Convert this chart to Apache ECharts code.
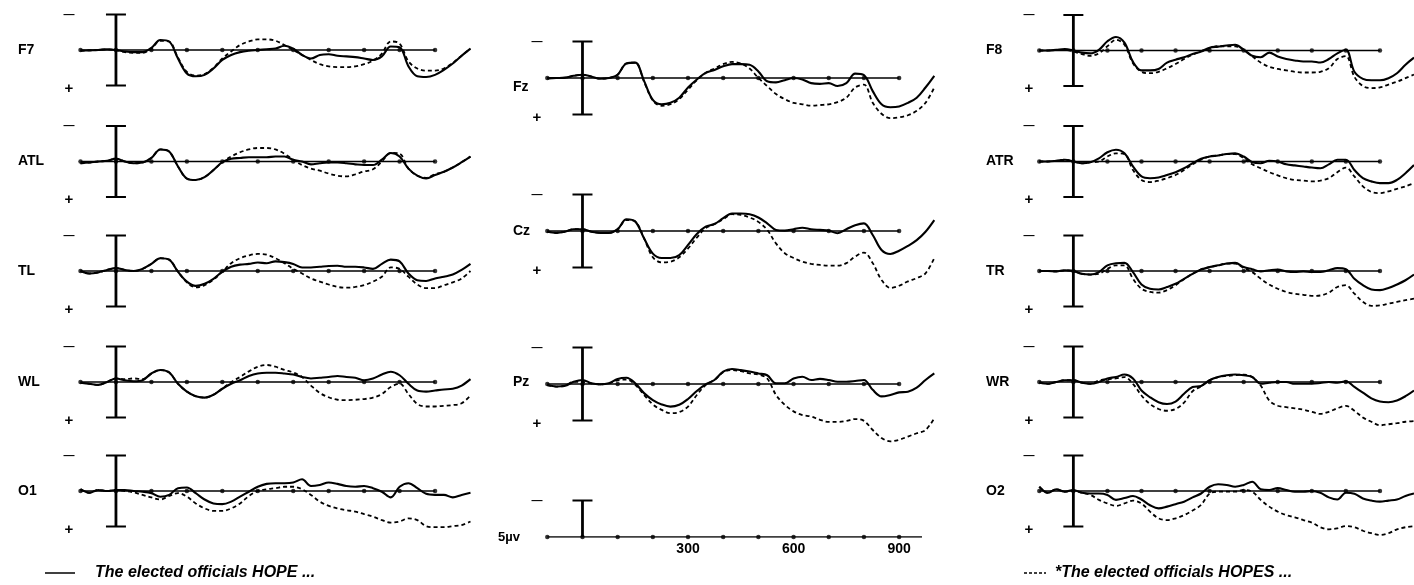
<!DOCTYPE html>
<html>
<head>
<meta charset="utf-8">
<script src="https://cdn.jsdelivr.net/npm/echarts@6/dist/echarts.min.js"></script>
<style>
html,body{margin:0;padding:0;background:#fff;}
#main{width:1414px;height:585px;}
</style>
</head>
<body>
<div id="main"></div>
<script>
// sample times (ms) of every trace
var times = [-100,-75,-50,-25,0,25,50,75,100,125,150,175,200,225,250,275,300,325,350,375,400,425,450,475,500,
	525,550,575,600,625,650,675,700,725,750,775,800,825,850,875,900,925,950,975,1000];
// dots on each baseline
var tickTimes = [-100,0,100,200,300,400,500,600,700,800,900];
var scaleTickLabels = [300,600,900];
var scaleLineEnd = 965;
var barRange = [-5,5];   // µV, calibration bar
var scaleBar = [-5,0];

// µV, negative plotted up
var F7_solid = [0.1,0.05,0,-0.1,0,0.2,0.3,0.3,-0.3,-1.4,-1.2,1.2,3.3,3.7,3.5,2.6,1.4,0.7,0.3,0.1,0,-0.1,-0.2,-0.6,-0.2,0.7,1.2,0.7,0.6,0.8,0.9,1.0,1.2,1.4,0.9,-0.5,-0.4,2.3,3.7,3.8,3.5,2.8,1.9,0.8,-0.2];
var F7_dashed = [0.1,0.05,0,-0.1,0,0.3,0.4,0.4,-0.2,-1.3,-1.2,1.1,3.1,3.6,3.4,2.5,1.2,0.2,-0.7,-1.2,-1.5,-1.5,-1.3,-0.7,0,0.7,1.4,2.0,2.3,2.4,2.4,2.3,2.0,1.5,0.5,-1.2,-0.9,1.6,2.6,2.9,2.9,2.6,1.8,0.8,-0.2];
var ATL_solid = [0.25,0.15,0,-0.1,-0.4,0,0.25,0.15,-0.5,-1.7,-1.4,0.7,2.4,2.6,2.2,1.2,0.1,-0.4,-0.5,-0.6,-0.6,-0.6,-0.7,-0.7,-0.25,0,0.4,0.25,0.15,0.15,0.25,0.4,0.5,0.5,-0.25,-1.2,-0.7,1.0,2.0,2.4,1.9,1.45,0.85,0.1,-0.7];
var ATL_dashed = [0.25,0.15,0,-0.1,-0.4,0,0.25,0.15,-0.5,-1.7,-1.4,0.7,2.4,2.6,2.2,1.2,0.1,-0.7,-1.3,-1.7,-1.9,-1.9,-1.7,-1.1,-0.25,0.5,1.0,1.3,1.7,2.0,2.1,1.8,1.4,1.1,0,-1.2,-1.1,1.0,2.0,2.3,1.8,1.45,0.85,0.1,-0.7];
var TL_solid = [0,0.35,0.2,-0.15,-0.4,-0.15,0,-0.3,-1.0,-1.8,-1.6,0.1,1.5,2.1,1.8,1.1,0.1,-0.6,-0.9,-1.0,-1.2,-1.1,-1.35,-1.25,-1.0,-0.5,-0.5,-0.6,-0.7,-0.75,-0.6,-0.6,-0.5,-0.3,-1.0,-1.6,-1.35,0.35,1.3,1.4,1.05,0.8,0.5,-0.15,-1.0];
var TL_dashed = [0,0.35,0.2,-0.15,-0.4,-0.15,0,-0.3,-1.0,-1.8,-1.6,0.1,1.6,2.3,2.0,1.2,0.1,-1.1,-1.8,-2.2,-2.4,-2.3,-1.8,-1.1,-0.3,0.35,1.05,1.5,1.9,2.25,2.35,2.25,2.0,1.5,0.8,-0.5,-0.3,0.8,1.9,2.4,2.4,2.0,1.6,1.05,0];
var WL_solid = [0.1,0.25,0.4,0,-0.5,-0.25,-0.1,-0.25,-1.2,-1.7,-1.35,0.25,1.35,2.0,2.2,1.8,0.95,0.25,-0.25,-0.85,-1.2,-1.3,-1.3,-1.2,-1.05,-0.7,-0.5,-0.6,-0.7,-0.85,-0.7,-0.6,-0.25,-0.5,-1.05,-1.45,-0.95,0.25,1.2,1.35,1.2,1.05,0.95,0.5,-0.4];
var WL_dashed = [0.1,0.25,0.4,0,-0.5,-0.4,-0.5,-0.4,-1.2,-1.7,-1.35,0.25,1.35,2.0,2.2,1.8,0.95,0,-0.7,-1.5,-2.15,-2.4,-2.15,-1.7,-1.35,-0.7,0.5,1.55,2.15,2.5,2.55,2.5,2.4,2.2,1.7,0.7,0.25,1.7,3.1,3.45,3.45,3.35,3.25,3.0,1.9];
var O1_solid = [-0.25,0.25,-0.15,0,-0.15,-0.15,0,0.1,0.3,0.8,0.55,-0.4,-0.5,0.3,1.2,1.75,1.85,1.5,0.8,0.1,-0.6,-1.0,-1.1,-1.1,-1.2,-1.65,-0.7,-0.85,-1.2,-1.0,-0.7,-0.6,-0.7,-0.4,0.1,0.9,-0.6,-1.1,-0.4,0.4,0.55,0.55,0.9,0.55,0.25];
var O1_dashed = [-0.25,0.25,-0.15,0,-0.15,0,0.2,0.55,0.9,1.2,0.7,0.3,0.8,1.75,2.45,2.8,2.8,2.45,1.75,0.7,0,-0.25,-0.4,-0.6,-0.6,-0.25,0.55,1.5,2.1,2.45,2.7,2.9,3.25,3.6,4.1,4.45,4.3,3.85,4.1,4.95,5.1,5.1,4.95,4.8,4.3];

var Fz_solid = [0.05,0,-0.05,-0.3,-0.45,-0.2,0.1,0,-0.45,-2.0,-2.1,0.4,3.0,3.6,3.4,2.7,1.3,0.2,-0.7,-1.1,-1.6,-1.9,-1.9,-1.8,-0.9,0.45,0.6,0.3,0,0.2,0.7,0.8,0.7,1.1,0.7,-0.6,-0.4,1.8,3.6,4.0,3.9,3.4,2.7,1.3,-0.3];
var Fz_dashed = [0.05,0,-0.05,-0.3,-0.45,-0.2,0.1,0,-0.45,-2.0,-2.1,0.5,3.1,3.8,3.6,2.9,1.6,0.3,-0.7,-1.3,-1.9,-2.2,-2.0,-1.3,0,1.1,2.2,2.9,3.4,3.6,3.8,3.7,3.6,3.3,2.7,1.3,0.9,3.4,4.9,5.5,5.4,5.1,4.5,3.4,1.3];
var Cz_solid = [0.1,0.25,0.1,-0.25,-0.25,0.1,0.25,0.25,-0.25,-1.6,-1.3,1.0,3.1,3.7,3.7,3.3,1.9,0.4,-0.6,-0.95,-1.75,-2.4,-2.4,-2.3,-1.85,-1.05,-0.15,-0.05,-0.25,-0.45,-0.25,-0.15,-0.05,0.3,-0.25,-0.8,-1.05,0.55,2.6,3.15,2.7,2.05,1.25,0.1,-1.5];
var Cz_dashed = [0.1,0.25,0.1,-0.25,-0.25,0.1,0.25,0.25,-0.25,-1.5,-1.3,1.0,3.6,4.3,4.2,3.6,2.4,0.9,-0.4,-0.95,-1.6,-2.3,-2.2,-1.85,-1.25,-0.15,1.7,3.05,3.7,4.2,4.5,4.65,4.75,4.75,4.4,3.5,2.95,4.4,6.7,7.8,7.5,6.9,6.45,5.8,3.7];
var Pz_solid = [0.15,0.35,0.25,-0.3,-0.55,-0.1,0.05,-0.1,-0.7,-0.85,-0.1,1.25,2.2,2.8,3.1,2.85,2.05,0.95,0.05,-0.55,-1.7,-2.05,-1.9,-1.7,-1.45,-1.2,-0.1,-0.1,-0.75,-1.0,-0.55,-0.7,-0.55,-0.3,-0.3,-0.4,-0.55,0.8,1.7,1.5,1.15,1.05,0.5,-0.55,-1.45];
var Pz_dashed = [0.15,0.35,0.25,-0.3,-0.3,-0.1,0.05,-0.1,-0.5,-0.6,0.1,1.5,2.8,3.55,4.0,3.85,3.1,1.5,0.15,-0.55,-1.6,-1.9,-1.75,-1.45,-1.3,-0.75,1.5,2.85,3.75,4.25,4.45,4.9,5.2,5.2,5.05,4.8,5.05,6.3,7.4,7.85,7.65,7.2,6.75,6.3,4.7];

var F8_solid = [0,0,-0.1,-0.2,0,0.3,0.4,-0.1,-1.3,-1.9,-1.1,1.6,2.8,2.8,2.6,1.7,1.3,0.95,0.5,0.15,-0.4,-0.55,-0.7,-0.8,-0.1,0.75,0.95,0.3,0.85,1.2,1.4,1.55,1.55,1.7,1.2,0.4,-0.1,3.0,4.0,4.2,4.2,3.9,3.2,2.0,1.0];
var F8_dashed = [0,0,-0.1,-0.1,0.15,0.5,0.75,0.4,-0.6,-1.5,-0.8,1.8,3.0,3.2,3.0,2.5,1.9,1.2,0.6,0.1,-0.3,-0.6,-0.6,-0.6,-0.1,0.8,1.7,2.3,2.6,2.8,3.0,3.1,3.1,3.0,2.5,1.2,0.8,3.7,5.0,5.3,5.2,4.8,4.4,3.9,3.4];
var ATR_solid = [0,0,-0.1,-0.25,0,0.25,0.1,-0.45,-1.3,-1.65,-1.15,0.7,2.1,2.35,2.25,1.9,1.5,0.95,0.25,-0.4,-0.7,-0.85,-1.05,-1.15,-0.7,0.1,0.25,-0.1,0,0.4,0.55,0.7,0.85,0.95,0.4,-0.25,-0.25,1.2,2.35,2.8,3.05,3.05,2.6,1.65,0.5];
var ATR_dashed = [0,0,-0.1,-0.25,0,0.25,0.1,0,-0.7,-1.15,-1.05,1.2,2.6,2.9,2.7,2.35,1.9,1.2,0.4,-0.25,-0.7,-0.85,-1.05,-1.05,-0.45,0.4,0.95,1.5,1.95,2.35,2.6,2.7,2.8,2.7,2.35,1.5,0.85,2.1,3.5,4.3,4.45,4.2,3.85,3.5,3.05];
var TR_solid = [0,0,0.05,-0.1,0,0.4,0.5,0.15,-0.8,-1.1,-1.15,0.15,1.9,2.5,2.6,2.25,1.8,1.1,0.4,-0.2,-0.55,-0.8,-1.05,-1.15,-0.55,-0.25,0.05,-0.1,-0.2,0.05,0.15,0.05,0.15,0.15,-0.1,-0.4,-0.25,1.1,2.0,2.6,2.7,2.4,1.9,1.3,0.5];
var TR_dashed = [0,0,0.05,-0.1,0,0.4,0.5,0.4,-0.3,-0.8,-0.8,1.1,2.5,2.95,3.05,2.7,2.0,1.15,0.4,-0.25,-0.55,-0.8,-1.05,-1.05,-0.4,0.15,1.1,1.9,2.5,2.95,3.2,3.35,3.5,3.45,3.05,2.25,2.0,3.2,4.35,4.9,4.85,4.6,4.35,4.1,3.9];
var WR_solid = [0.1,0.25,0,-0.25,-0.25,0.1,0.25,0,-0.5,-0.7,-1.05,-0.5,1.2,2.15,2.85,3.1,2.75,1.65,0.7,0.55,-0.25,-0.7,-0.95,-1.05,-0.95,-0.7,0.25,0.1,0,0,0.25,0.25,0.25,0.15,0,0.1,-0.1,0.7,1.5,2.3,2.75,2.85,2.6,2.0,1.2];
var WR_dashed = [0.1,0.25,0,-0.25,-0.25,0.1,0.25,-0.2,-0.4,-0.5,-0.7,0.25,1.9,3.1,3.8,4.05,3.8,2.9,1.3,0.6,-0.25,-0.7,-0.85,-0.95,-1.05,-0.7,0.5,2.6,3.35,3.55,3.7,3.9,4.2,4.5,4.2,3.7,3.35,4.05,5.0,5.6,6.1,5.95,5.8,5.6,5.5];
var O2_solid = [-0.6,0.25,-0.25,0.1,-0.15,0.25,0.35,0.35,0.55,1.25,1.0,0.7,1.2,2.0,2.45,2.2,1.85,1.5,0.9,0.35,-0.6,-0.95,-0.85,-0.6,-0.85,-1.3,-0.25,-0.15,-0.4,-0.15,0.1,0.1,0,0.25,0.9,1.2,0.25,0.4,1.05,1.35,1.5,1.35,1.2,0.7,0.35];
var O2_dashed = [-0.6,0.25,-0.25,0.1,-0.05,0.25,0.55,1.25,1.75,2.1,1.75,1.35,1.75,2.9,3.85,4.1,3.85,3.4,2.75,1.95,0.35,0.1,0.1,0.1,-0.15,0.1,1.25,2.2,2.9,3.4,3.7,4.1,4.45,5.1,5.4,5.25,4.95,5.1,5.6,5.95,6.2,5.95,5.4,5.1,4.95];

var legendSolid = 'The elected officials HOPE ...';
var legendDashed = '*The elected officials HOPES ...';

// layout of the three columns
var cols = [
	{left:80.5, width:390, ppu:7.1, labelX:18, signX:69},
	{left:547.3, width:387, ppu:7.3, labelX:513, signX:537},
	{left:1039.3, width:387, ppu:7.1, labelX:986, signX:1029}
];

var panels = [
	{name:'F7', col:0, base:50, solid:F7_solid, dashed:F7_dashed},
	{name:'ATL', col:0, base:161.5, solid:ATL_solid, dashed:ATL_dashed},
	{name:'TL', col:0, base:271, solid:TL_solid, dashed:TL_dashed},
	{name:'WL', col:0, base:382, solid:WL_solid, dashed:WL_dashed},
	{name:'O1', col:0, base:491, solid:O1_solid, dashed:O1_dashed},
	{name:'Fz', col:1, base:78, labelDy:9, solid:Fz_solid, dashed:Fz_dashed},
	{name:'Cz', col:1, base:231, solid:Cz_solid, dashed:Cz_dashed},
	{name:'Pz', col:1, base:384, labelDy:-2, solid:Pz_solid, dashed:Pz_dashed},
	{name:'F8', col:2, base:50.5, solid:F8_solid, dashed:F8_dashed},
	{name:'ATR', col:2, base:161.5, solid:ATR_solid, dashed:ATR_dashed},
	{name:'TR', col:2, base:271, solid:TR_solid, dashed:TR_dashed},
	{name:'WR', col:2, base:382, solid:WR_solid, dashed:WR_dashed},
	{name:'O2', col:2, base:491, solid:O2_solid, dashed:O2_dashed}
];

var FONT = '"Liberation Sans", Arial, Helvetica, sans-serif';

function pairs(vals){
	return times.map(function(t, i){ return [t, vals[i]]; });
}

function barItem(params, api){
	var top = api.coord([api.value(0), api.value(1)]);
	var bot = api.coord([api.value(0), api.value(2)]);
	var kids = [
		{type:'line', shape:{x1:top[0], y1:top[1], x2:bot[0], y2:bot[1]}, style:{stroke:'#000', lineWidth:2.8}},
		{type:'line', shape:{x1:top[0]-10, y1:top[1], x2:top[0]+10, y2:top[1]}, style:{stroke:'#000', lineWidth:2}}
	];
	if (api.value(3)) {
		kids.push({type:'line', shape:{x1:bot[0]-10, y1:bot[1], x2:bot[0]+10, y2:bot[1]}, style:{stroke:'#000', lineWidth:2}});
	}
	return {type:'group', children:kids};
}

function textEl(str, x, y, size, align, style){
	return {type:'text', silent:true, style:{text:str, x:x, y:y, fill:'#000',
		font:(style || 'bold') + ' ' + size + 'px ' + FONT, textAlign:align || 'left', textVerticalAlign:'middle'}};
}

var grids = [], xAxes = [], yAxes = [], series = [], graphics = [];

function addPanel(idx, c, base, yMax){
	grids.push({left:c.left, top:base - 7*c.ppu, width:c.width, height:(7 + yMax)*c.ppu});
	xAxes.push({gridIndex:idx, type:'value', min:-100, max:1000, show:false});
	yAxes.push({gridIndex:idx, type:'value', min:-7, max:yMax, inverse:true, show:false});
}

panels.forEach(function(p, i){
	var c = cols[p.col];
	addPanel(i, c, p.base, 10);
	series.push({type:'line', xAxisIndex:i, yAxisIndex:i, data:[[tickTimes[0],0],[tickTimes[tickTimes.length-1],0]],
		symbol:'none', lineStyle:{color:'#000', width:1.6}, silent:true, z:2});
	series.push({type:'scatter', xAxisIndex:i, yAxisIndex:i, data:tickTimes.map(function(t){ return [t,0]; }),
		symbolSize:4.5, itemStyle:{color:'#000'}, silent:true, z:3});
	series.push({type:'custom', xAxisIndex:i, yAxisIndex:i, renderItem:barItem,
		data:[[0, barRange[0], barRange[1], 1]], encode:{x:0, y:1}, silent:true, z:3});
	series.push({type:'line', xAxisIndex:i, yAxisIndex:i, data:pairs(p.solid), smooth:0.35, showSymbol:false,
		lineStyle:{color:'#000', width:2.1}, silent:true, z:4});
	series.push({type:'line', xAxisIndex:i, yAxisIndex:i, data:pairs(p.dashed), smooth:0.35, showSymbol:false,
		lineStyle:{color:'#000', width:1.8, type:[4,3]}, silent:true, z:4});

	graphics.push(textEl(p.name, c.labelX, p.base + (p.labelDy || 0), 14));
	graphics.push(textEl('—', c.signX, p.base - 5*c.ppu, 11, 'center'));
	graphics.push(textEl('+', c.signX, p.base + 5*c.ppu + 3, 15, 'center'));
});

// calibration / time scale panel
var si = panels.length;
var sc = cols[1];
var sBase = 537;
addPanel(si, sc, sBase, 0);
xAxes[si] = {gridIndex:si, type:'value', min:-100, max:1000, interval:100, position:'bottom',
	axisLine:{show:false}, axisTick:{show:false}, splitLine:{show:false},
	axisLabel:{margin:5, color:'#000', fontWeight:'bold', fontSize:14, fontFamily:FONT,
		formatter:function(v){ return scaleTickLabels.indexOf(v) >= 0 ? String(v) : ''; }}};
series.push({type:'line', xAxisIndex:si, yAxisIndex:si, data:[[tickTimes[0],0],[scaleLineEnd,0]],
	symbol:'none', lineStyle:{color:'#000', width:1.6}, silent:true, z:2});
series.push({type:'scatter', xAxisIndex:si, yAxisIndex:si, data:tickTimes.map(function(t){ return [t,0]; }),
	symbolSize:4.5, itemStyle:{color:'#000'}, silent:true, z:3});
series.push({type:'custom', xAxisIndex:si, yAxisIndex:si, renderItem:barItem,
	data:[[0, scaleBar[0], scaleBar[1], 0]], encode:{x:0, y:1}, silent:true, z:3});
graphics.push(textEl('5µv', 498, sBase, 13));
graphics.push(textEl('—', sc.signX, sBase - 5*sc.ppu, 11, 'center'));

// legend
graphics.push({type:'line', silent:true, shape:{x1:45, y1:573, x2:75, y2:573}, style:{stroke:'#000', lineWidth:1.5}});
graphics.push(textEl(legendSolid, 95, 573, 16, 'left', 'italic bold'));
graphics.push({type:'line', silent:true, shape:{x1:1024, y1:573, x2:1046, y2:573}, style:{stroke:'#000', lineWidth:1.5, lineDash:[3,2]}});
graphics.push(textEl(legendDashed, 1055, 573, 16, 'left', 'italic bold'));

var myChart = echarts.init(document.getElementById('main'));
myChart.setOption({
	animation:false,
	backgroundColor:'#fff',
	grid:grids,
	xAxis:xAxes,
	yAxis:yAxes,
	series:series,
	graphic:{elements:graphics}
});
</script>
</body>
</html>
